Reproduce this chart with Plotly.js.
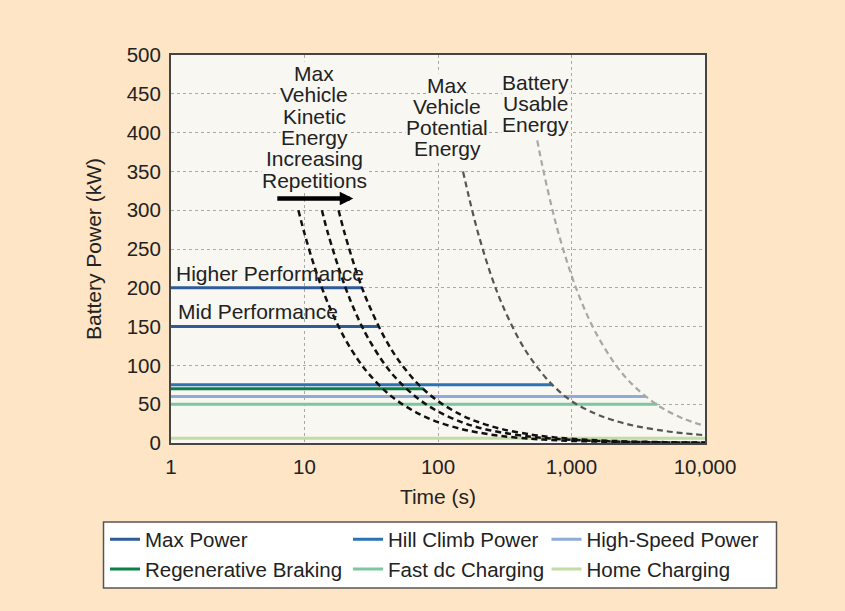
<!DOCTYPE html>
<html>
<head>
<meta charset="utf-8">
<script src="https://cdn.plot.ly/plotly-3.0.1.min.js"></script>
<style>
  html, body { margin: 0; padding: 0; background: #fde5c5; }
  #chart { width: 845px; height: 611px; }
</style>
</head>
<body>
<div id="chart"></div>
<script>
// ---------- data ----------
const xTickVals = [1, 10, 100, 1000, 10000];
const xTickText = ['1', '10', '100', '1,000', '10,000'];
const yTickVals = [0, 50, 100, 150, 200, 250, 300, 350, 400, 450, 500];

// constant power levels: [start time, end time] and [kW, kW]
const highPerfT = [1, 27];      const highPerfP = [200, 200];
const midPerfT = [1, 36];       const midPerfP = [150, 150];
const hillClimbT = [1, 720];    const hillClimbP = [75, 75];
const highSpeedT = [1, 3600];   const highSpeedP = [60, 60];
const regenT = [1, 78];         const regenP = [70, 70];
const fastDcT = [1, 4400];      const fastDcP = [50, 50];
const homeT = [1, 10000];       const homeP = [6, 6];

// energy limit curves (time s, power kW)
const kinetic1T = [9, 10, 12, 15, 20, 25, 30, 40, 50, 70, 100, 150, 200, 300, 500, 700, 1000, 2000, 5000, 10000];
const kinetic1P = [300, 270, 225, 180, 135, 108, 90, 67.5, 54, 38.6, 27, 18, 13.5, 9, 5.4, 3.9, 2.7, 1.4, 0.5, 0.3];
const kinetic2T = [13.5, 15, 20, 25, 30, 40, 50, 70, 100, 150, 200, 300, 500, 700, 1000, 2000, 5000, 10000];
const kinetic2P = [300, 270, 203, 162, 135, 101, 81, 58, 40.5, 27, 20, 13.5, 8.1, 5.8, 4, 2, 0.8, 0.4];
const kinetic3T = [18, 20, 25, 30, 40, 50, 70, 100, 150, 200, 300, 500, 700, 1000, 2000, 5000, 10000];
const kinetic3P = [300, 270, 216, 180, 135, 108, 77, 54, 36, 27, 18, 10.8, 7.7, 5.4, 2.7, 1.1, 0.5];
const potentialT = [154, 170, 200, 250, 300, 400, 500, 700, 1000, 1500, 2000, 3000, 5000, 7000, 10000];
const potentialP = [350, 318, 270, 216, 180, 135, 108, 77, 54, 38, 30, 22, 15.5, 12.5, 10];
const batteryT = [554, 600, 700, 800, 1000, 1200, 1500, 2000, 2500, 3000, 4000, 5000, 7000, 10000];
const batteryP = [390, 360, 309, 270, 216, 180, 144, 108, 86, 72, 54, 43, 31, 22];

// ---------- styling ----------
const FONT = 'Liberation Sans, Arial, Helvetica, sans-serif';
const TXT = '#222222';
const PLOTBG = '#f8f7f2';
const ANN_SIZE = 21;
const LEG_SIZE = 20.5;
const TICK_SIZE = 20.5;

function hline(name, t, p, color, legend, showlegend) {
  return { type: 'scatter', mode: 'lines', x: t, y: p, name: name,
    line: { color: color, width: 3 }, legend: legend, showlegend: showlegend,
    legendgroup: name, hoverinfo: 'skip' };
}
function curve(t, p, color, width) {
  return { type: 'scatter', mode: 'lines', x: t, y: p, showlegend: false,
    line: { color: color, width: width, dash: '6px,4px', shape: 'spline', smoothing: 1 },
    hoverinfo: 'skip' };
}

const traces = [
  hline('Max Power', highPerfT, highPerfP, '#2f5b97', 'legend', true),
  hline('Max Power', midPerfT, midPerfP, '#2f5b97', 'legend', false),
  hline('Hill Climb Power', hillClimbT, hillClimbP, '#2a74b6', 'legend2', true),
  hline('High-Speed Power', highSpeedT, highSpeedP, '#8eabd9', 'legend3', true),
  hline('Regenerative Braking', regenT, regenP, '#0b8148', 'legend', true),
  hline('Fast dc Charging', fastDcT, fastDcP, '#7cc6a0', 'legend2', true),
  hline('Home Charging', homeT, homeP, '#c2dca2', 'legend3', true),
  curve(kinetic1T, kinetic1P, '#111111', 2.5),
  curve(kinetic2T, kinetic2P, '#111111', 2.5),
  curve(kinetic3T, kinetic3P, '#111111', 2.5),
  curve(potentialT, potentialP, '#555555', 2.2),
  curve(batteryT, batteryP, '#a8a8a8', 2.2)
];

// ---------- annotations ----------
function textLines(lines, xLog, yTop, step) {
  const out = [];
  for (let i = lines.length - 1; i >= 0; i--) {
    out.push({ xref: 'x', yref: 'y', x: xLog, y: yTop - i * step, text: lines[i],
      showarrow: false, xanchor: 'center', yanchor: 'middle',
      font: { family: FONT, size: ANN_SIZE, color: TXT }, bgcolor: PLOTBG, borderpad: 0 });
  }
  return out;
}
const annotations = []
  .concat(textLines(['Max', 'Vehicle', 'Kinetic', 'Energy', 'Increasing', 'Repetitions'], 1.073, 476.4, 27.6))
  .concat(textLines(['Max', 'Vehicle', 'Potential', 'Energy'], 2.068, 461.3, 27.1))
  .concat(textLines(['Battery', 'Usable', 'Energy'], 2.731, 464.3, 27.1))
  .concat([
    { xref: 'x', yref: 'y', x: 0, y: 219, xshift: 3, text: 'Higher Performance', showarrow: false,
      xanchor: 'left', yanchor: 'middle', font: { family: FONT, size: ANN_SIZE, color: TXT } },
    { xref: 'x', yref: 'y', x: 0, y: 169, xshift: 5, text: 'Mid Performance', showarrow: false,
      xanchor: 'left', yanchor: 'middle', font: { family: FONT, size: ANN_SIZE, color: TXT } },
    { xref: 'x', yref: 'y', x: 1.365, y: 315, axref: 'x', ayref: 'y', ax: 0.785, ay: 315,
      text: '', showarrow: true, arrowhead: 2, arrowwidth: 4.5, arrowsize: 0.6,
      arrowcolor: '#000000', standoff: 0 }
  ]);

const legendCommon = { orientation: 'v', yanchor: 'top', xanchor: 'left', y: -0.197,
  bgcolor: 'rgba(0,0,0,0)', borderwidth: 0, tracegroupgap: 0, itemwidth: 30,
  font: { family: FONT, size: LEG_SIZE, color: TXT } };

const layout = {
  width: 845, height: 611,
  margin: { l: 171, r: 140, t: 55, b: 168, pad: 0 },
  paper_bgcolor: '#fde5c5',
  plot_bgcolor: PLOTBG,
  font: { family: FONT, size: 20, color: TXT },
  xaxis: {
    type: 'log', range: [0, 4], tickvals: xTickVals, ticktext: xTickText,
    showgrid: true, gridcolor: '#a9a9a9', gridwidth: 1, griddash: '3px,3px',
    showline: true, linecolor: '#444444', linewidth: 2, mirror: true,
    ticks: '', ticklabelstandoff: 4, zeroline: false,
    tickfont: { family: FONT, size: TICK_SIZE, color: TXT },
    title: { text: 'Time (s)', font: { family: FONT, size: ANN_SIZE, color: TXT }, standoff: 13 }
  },
  yaxis: {
    range: [0, 500], tickvals: yTickVals,
    showgrid: true, gridcolor: '#a9a9a9', gridwidth: 1, griddash: '3px,3px',
    showline: true, linecolor: '#444444', linewidth: 2, mirror: true,
    ticks: '', ticklabelstandoff: 4, zeroline: false,
    tickfont: { family: FONT, size: TICK_SIZE, color: TXT },
    title: { text: 'Battery Power (kW)', font: { family: FONT, size: ANN_SIZE, color: TXT }, standoff: 19 }
  },
  legend: Object.assign({}, legendCommon, { x: -0.1236 }),
  legend2: Object.assign({}, legendCommon, { x: 0.3315 }),
  legend3: Object.assign({}, legendCommon, { x: 0.7032 }),
  shapes: [
    { type: 'rect', xref: 'paper', yref: 'paper', x0: -0.1264, x1: 1.1339, y0: -0.3737, y1: -0.2036,
      fillcolor: '#ffffff', line: { color: '#555555', width: 1.5 }, layer: 'below' }
  ],
  annotations: annotations,
  showlegend: true
};

Plotly.newPlot('chart', traces, layout, { displayModeBar: false, staticPlot: true });
</script>
</body>
</html>
